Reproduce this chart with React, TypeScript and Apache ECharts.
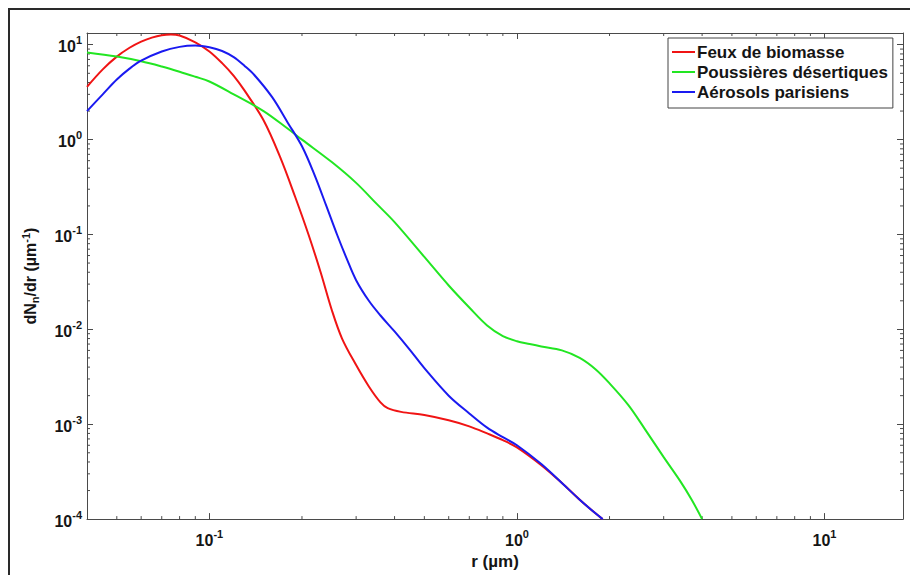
import React, { useEffect, useRef } from 'react';
import * as echarts from 'echarts';

const seriesNames = ['Feux de biomasse', 'Poussières désertiques', 'Aérosols parisiens'];
const seriesColors = ['#f01414', '#22e622', '#1a1af0'];

const rRed = [0.04, 0.045, 0.05, 0.055, 0.06, 0.065, 0.07, 0.075, 0.08, 0.09, 0.1, 0.11, 0.12, 0.13, 0.15, 0.17, 0.19, 0.21, 0.23, 0.25, 0.27, 0.3, 0.33, 0.36, 0.38, 0.42, 0.5, 0.6, 0.7, 0.8, 0.9, 1.0, 1.2, 1.4, 1.6, 1.8, 1.9];
const yRed = [3.6, 5.5, 7.5, 9.3, 10.8, 11.9, 12.6, 12.8, 12.5, 10.6, 8.5, 6.4, 4.7, 3.3, 1.6, 0.65, 0.25, 0.1, 0.04, 0.016, 0.008, 0.0042, 0.0025, 0.0017, 0.00148, 0.00135, 0.00125, 0.0011, 0.00095, 0.0008, 0.00068, 0.00057, 0.00037, 0.00024, 0.00016, 0.000115, 0.0001];

const rGreen = [0.04, 0.05, 0.06, 0.07, 0.08, 0.09, 0.1, 0.12, 0.15, 0.18, 0.2, 0.25, 0.3, 0.35, 0.4, 0.5, 0.6, 0.7, 0.8, 0.9, 1.0, 1.1, 1.2, 1.4, 1.6, 1.8, 2.0, 2.3, 2.6, 3.0, 3.4, 3.7, 4.0];
const yGreen = [8.3, 7.5, 6.7, 5.9, 5.2, 4.6, 4.1, 3.0, 2.0, 1.3, 1.0, 0.58, 0.35, 0.21, 0.135, 0.058, 0.029, 0.017, 0.011, 0.0085, 0.0075, 0.007, 0.0066, 0.006, 0.005, 0.0038, 0.0027, 0.0016, 0.0009, 0.00045, 0.00025, 0.00016, 0.0001];

const rBlue = [0.04, 0.045, 0.05, 0.055, 0.06, 0.07, 0.08, 0.09, 0.1, 0.11, 0.12, 0.13, 0.14, 0.16, 0.18, 0.2, 0.22, 0.24, 0.26, 0.28, 0.3, 0.33, 0.36, 0.4, 0.45, 0.5, 0.6, 0.7, 0.8, 0.9, 1.0, 1.2, 1.4, 1.6, 1.8, 1.9];
const yBlue = [2.0, 3.0, 4.3, 5.6, 6.8, 8.5, 9.5, 9.8, 9.4, 8.6, 7.4, 6.0, 4.8, 2.8, 1.5, 0.85, 0.42, 0.2, 0.1, 0.055, 0.033, 0.02, 0.014, 0.0095, 0.006, 0.0039, 0.002, 0.0013, 0.00092, 0.00073, 0.0006, 0.00038, 0.00024, 0.00016, 0.000115, 0.0001];

const xMin = 0.04;
const xMax = 18;
const yMin = 0.0001;
const yMax = 13.3;

const xMinorTicks = [0.05, 0.06, 0.07, 0.08, 0.09, 0.2, 0.3, 0.4, 0.5, 0.6, 0.7, 0.8, 0.9, 2, 3, 4, 5, 6, 7, 8, 9];
const yMinorTicks = [0.0002, 0.0003, 0.0004, 0.0005, 0.0006, 0.0007, 0.0008, 0.0009, 0.002, 0.003, 0.004, 0.005, 0.006, 0.007, 0.008, 0.009, 0.02, 0.03, 0.04, 0.05, 0.06, 0.07, 0.08, 0.09, 0.2, 0.3, 0.4, 0.5, 0.6, 0.7, 0.8, 0.9, 2, 3, 4, 5, 6, 7, 8, 9];

const FONT = '"Liberation Sans", Arial, Helvetica, sans-serif';
const AXIS_COLOR = '#4a4a4a';
const TEXT_COLOR = '#151515';

function powLabel(v: number): string {
  const e = Math.log10(v);
  const r = Math.round(e);
  if (Math.abs(e - r) > 1e-6) return '';
  return '{b|10}{e|' + r + '}';
}

const labelRich = {
  b: { fontSize: 16, fontWeight: 'bold', fontFamily: FONT, color: TEXT_COLOR, lineHeight: 20, verticalAlign: 'bottom' },
  e: { fontSize: 11, fontWeight: 'bold', fontFamily: FONT, color: TEXT_COLOR, lineHeight: 11, verticalAlign: 'top' },
};

export default function App() {
  const ref = useRef<HTMLDivElement>(null);
  useEffect(() => {
    if (!ref.current) return;
    const chart = echarts.init(ref.current, null, { renderer: 'svg' });
    const zip = (xs: number[], ys: number[]) => xs.map((x, i) => [x, ys[i]]);
    const lineSeries = [zip(rRed, yRed), zip(rGreen, yGreen), zip(rBlue, yBlue)].map((d, i) => ({
      type: 'line',
      name: seriesNames[i],
      data: d,
      xAxisIndex: 0,
      yAxisIndex: 0,
      symbol: 'none',
      smooth: 0.35,
      lineStyle: { color: seriesColors[i], width: 2 },
      itemStyle: { color: seriesColors[i] },
      z: 3,
    }));
    const tickStyle = { stroke: AXIS_COLOR, lineWidth: 1 };
    const option: any = {
      animation: false,
      backgroundColor: '#fff',
      grid: { left: 87, top: 33, right: 7, bottom: 50, containLabel: false },
      graphic: [
        {
          type: 'rect',
          shape: { x: 9, y: 9, width: 1000, height: 1000 },
          style: { fill: 'none', stroke: '#2a2a2a', lineWidth: 2 },
          silent: true,
        },
      ],
      legend: {
        data: seriesNames.map((n) => ({ name: n, icon: 'rect' })),
        orient: 'vertical',
        left: 668,
        top: 38,
        padding: [4, 5, 6, 4],
        itemWidth: 23,
        itemHeight: 2,
        itemGap: 0,
        backgroundColor: '#fff',
        borderColor: '#444',
        borderWidth: 1,
        textStyle: { fontFamily: FONT, fontWeight: 'bold', fontSize: 17, lineHeight: 20, color: TEXT_COLOR, padding: [0, 0, 0, -3] },
      },
      xAxis: [
        {
          type: 'log',
          logBase: 10,
          min: xMin,
          max: xMax,
          name: 'r (µm)',
          nameLocation: 'middle',
          nameGap: 29,
          nameTextStyle: { fontFamily: FONT, fontWeight: 'bold', fontSize: 17, color: TEXT_COLOR },
          axisLine: { show: true, lineStyle: { color: AXIS_COLOR, width: 1 } },
          axisTick: { show: true, inside: true, length: 6, lineStyle: { color: AXIS_COLOR } },
          axisLabel: { formatter: powLabel, rich: labelRich, margin: 9 },
          splitLine: { show: false },
        },
        {
          type: 'log',
          logBase: 10,
          min: xMin,
          max: xMax,
          position: 'top',
          axisLine: { show: true, lineStyle: { color: AXIS_COLOR, width: 1 } },
          axisTick: { show: true, inside: true, length: 6, lineStyle: { color: AXIS_COLOR } },
          axisLabel: { show: false },
          splitLine: { show: false },
        },
      ],
      yAxis: [
        {
          type: 'log',
          logBase: 10,
          min: yMin,
          max: yMax,
          name: 'dN{sub|n}/dr (µm{sup|-1})',
          nameLocation: 'middle',
          nameRotate: 90,
          nameGap: 47,
          nameTextStyle: {
            fontFamily: FONT,
            fontWeight: 'bold',
            fontSize: 16,
            color: TEXT_COLOR,
            lineHeight: 20,
            verticalAlign: 'bottom',
            rich: {
              sub: { fontFamily: FONT, fontWeight: 'bold', fontSize: 11, color: TEXT_COLOR, lineHeight: 11, verticalAlign: 'bottom' },
              sup: { fontFamily: FONT, fontWeight: 'bold', fontSize: 11, color: TEXT_COLOR, lineHeight: 11, verticalAlign: 'top' },
            },
          },
          axisLine: { show: true, lineStyle: { color: AXIS_COLOR, width: 1 } },
          axisTick: { show: true, inside: true, length: 6, lineStyle: { color: AXIS_COLOR } },
          axisLabel: { formatter: powLabel, rich: labelRich, margin: 5 },
          splitLine: { show: false },
        },
        {
          type: 'log',
          logBase: 10,
          min: yMin,
          max: yMax,
          position: 'right',
          axisLine: { show: true, lineStyle: { color: AXIS_COLOR, width: 1 } },
          axisTick: { show: true, inside: true, length: 6, lineStyle: { color: AXIS_COLOR } },
          axisLabel: { show: false },
          splitLine: { show: false },
        },
      ],
      series: [
        ...lineSeries,
        {
          type: 'custom',
          silent: true,
          xAxisIndex: 0,
          yAxisIndex: 0,
          data: xMinorTicks.map((v) => [v, yMin]),
          renderItem: (_p: any, api: any) => {
            const v = api.value(0);
            const b = api.coord([v, yMin]);
            const t = api.coord([v, yMax]);
            return {
              type: 'group',
              children: [
                { type: 'line', shape: { x1: b[0], y1: b[1], x2: b[0], y2: b[1] - 3 }, style: tickStyle },
                { type: 'line', shape: { x1: t[0], y1: t[1], x2: t[0], y2: t[1] + 3 }, style: tickStyle },
              ],
            };
          },
          z: 1,
        },
        {
          type: 'custom',
          silent: true,
          xAxisIndex: 0,
          yAxisIndex: 0,
          data: yMinorTicks.map((v) => [xMin, v]),
          renderItem: (_p: any, api: any) => {
            const v = api.value(1);
            const l = api.coord([xMin, v]);
            const r = api.coord([xMax, v]);
            return {
              type: 'group',
              children: [
                { type: 'line', shape: { x1: l[0], y1: l[1], x2: l[0] + 3, y2: l[1] }, style: tickStyle },
                { type: 'line', shape: { x1: r[0], y1: r[1], x2: r[0] - 3, y2: r[1] }, style: tickStyle },
              ],
            };
          },
          z: 1,
        },
      ],
    };
    chart.setOption(option);
    return () => chart.dispose();
  }, []);
  return (
    <div
      ref={ref}
      style={{ position: 'fixed', left: 0, top: 0, width: 910, height: 575, background: '#fff' }}
    />
  );
}
